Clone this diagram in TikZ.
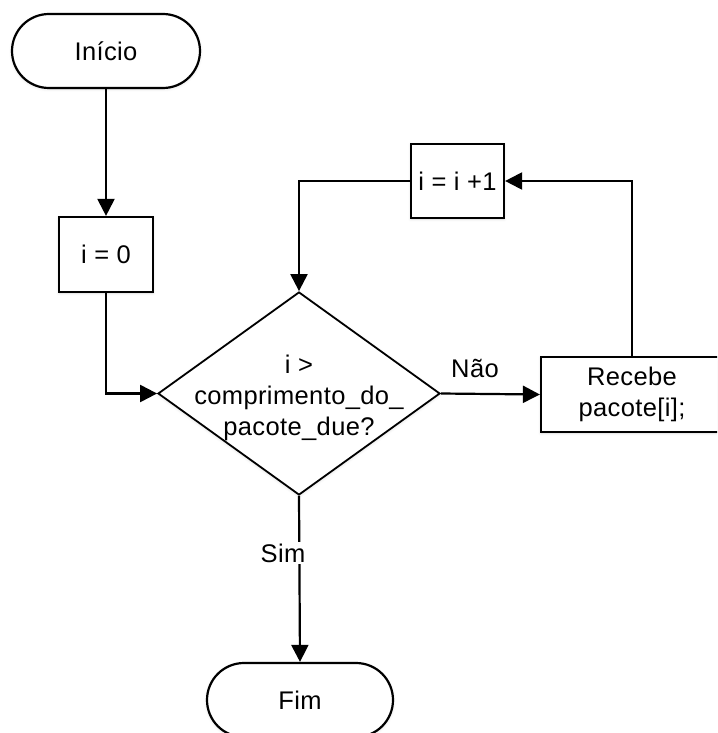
\documentclass[tikz,border=0pt]{standalone}
\usepackage{fontspec}
\setmainfont{Liberation Sans}[LetterSpace=1.5]
\usetikzlibrary{shapes.misc,shapes.geometric,arrows.meta,shadows.blur}

\begin{document}
\begin{tikzpicture}[x=1pt,y=-1pt,
  every node/.style={font=\fontsize{25.5}{31}\selectfont},
  glow/.style={blur shadow={shadow xshift=0pt,shadow yshift=-1pt,
      shadow blur radius=3pt,shadow opacity=15}},
  terminal/.style={draw,line width=2.2pt,fill=white,glow,rounded rectangle,
      minimum width=188pt,minimum height=74pt,inner sep=0pt},
  procbox/.style={draw,line width=2.2pt,fill=white,glow,rectangle,
      minimum height=75pt,inner sep=0pt,align=center},
  decision/.style={draw,line width=1.8pt,fill=white,glow,diamond,
      minimum width=282pt,minimum height=203pt,inner sep=0pt},
  flow/.style={line width=2.2pt,-{Triangle[length=17pt,width=17pt]}}]

\useasboundingbox (0,0) rectangle (717,733);
\clip (0,0) rectangle (717,733);

% nodes
\node[terminal] (inicio) at (106,51) {Início};
\node[procbox,minimum width=94pt] (izero) at (106,254.5) {i = 0};
\node[decision] (dec) at (299,393.5) {};
\node[align=center,inner sep=0pt] (dectext) at (299,398) {i >\\comprimento\_do\_\\pacote\_due?};
\node[procbox,minimum width=182pt] (recv) at (632,394.5) {Recebe\\pacote[i];};
\node[procbox,minimum width=93pt,minimum height=74pt] (inc) at (457.5,181) {i = i +1};
\node[terminal,minimum width=186pt] (fim) at (300,700) {Fim};

% connectors
\draw[flow] (inicio.south) -- (izero.north);
\draw[flow] (izero.south) |- (dec.west);
\draw[flow] (dec.east) -- (recv.west);
\node[inner sep=0pt] (nao) at (475,368) {Não};
\draw[flow] (recv.north) |- (inc.east);
\draw[flow] (inc.west) -| (dec.north);
\draw[flow] (dec.south) -- (fim.north);
\node[fill=white,inner sep=2pt] (sim) at (283,553) {Sim};

\end{tikzpicture}
\end{document}
